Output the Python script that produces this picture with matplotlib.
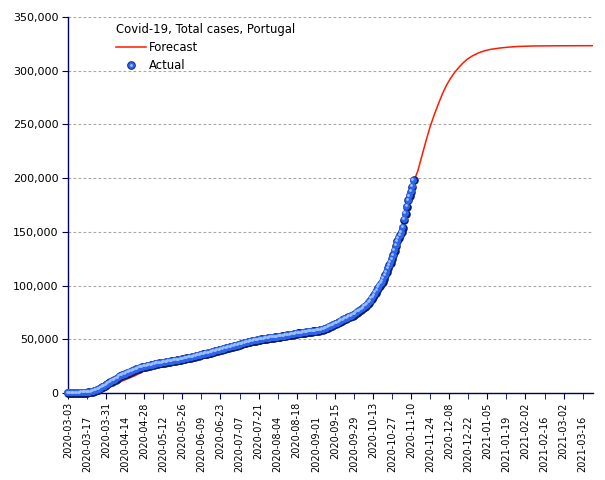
import matplotlib
matplotlib.use('Agg')
from matplotlib import pyplot as plt
from matplotlib import transforms
from matplotlib.legend_handler import HandlerTuple
from matplotlib.lines import Line2D
import matplotlib.ticker as mticker
import numpy as np
import pandas as pd

# daily confirmed cases, Portugal, 2020-03-03 .. 2020-11-12
actual_start = '2020-03-03'
actual_cases = [
    4, 6, 9, 13, 21, 30, 39, 41, 59, 78, 112, 169, 245, 331, 448, 642, 785, 1020, 1280, 1600,
    2060, 2362, 2995, 3544, 4268, 5170, 5962, 6408, 7443,
    8251, 9034, 9886, 10524, 11278, 11730, 12442, 13141, 13956, 15472, 15987, 16585, 16934, 17448,
    18091, 18841, 19022, 19685, 20206, 20863, 21379, 21982, 22353, 22797, 23392, 23864, 24027,
    24322, 24505, 25045,
    25351, 25524, 25702, 25987, 26182, 26715, 27268, 27406, 27581, 27679, 27913, 28132, 28319,
    28583, 28810, 29036, 29209, 29432, 29660, 29912, 30200, 30471, 30623, 30788, 31007, 31292,
    31596, 31946, 32203, 32500, 32700,
    32895, 33261, 33592, 33969, 34351, 34693, 34885, 35306, 35600, 35910, 36180, 36463, 36690,
    37036, 37336, 37672, 38089, 38464, 38841, 39133, 39392, 39737, 40104, 40415, 40866, 41189,
    41646, 41912, 42141, 42454,
    42782, 43156, 43569, 43897, 44129, 44416, 44859, 45277, 45679, 46221, 46512, 46818, 47051,
    47426, 47765, 48077, 48390, 48636, 48771, 48898, 49379, 49692, 49955, 50164, 50299, 50410,
    50613, 50868, 51072, 51310, 51463,
    51569, 51681, 51848, 52061, 52351, 52537, 52668, 52825, 52945, 53223, 53548, 53783, 53981,
    54234, 54448, 54701, 54992, 55211, 55452, 55597, 55720, 55912, 56007, 56274, 56673, 56812,
    56958, 57074, 57178, 57306, 57448,
    57531, 57883, 58012, 58243, 58633, 59051, 59457, 59943, 60258, 60895, 61541, 62126, 62813,
    63310, 63983, 64596, 65021, 65626, 66396, 67176, 68025, 68577, 69200, 69663, 70465, 71156,
    71475, 72055, 72939, 73604,
    74717, 75542, 76396, 77284, 78247, 79151, 80312, 81256, 82534, 83928, 85574, 87913, 89121,
    91193, 93294, 95902, 98055, 99911, 101860, 103736, 106271, 109541, 112440, 116109, 118686,
    121133, 124432, 128392, 132616, 137272, 141279,
    144341, 146847, 149443, 154016, 161350, 166900, 173540, 179324, 183420, 187237, 192172, 198011,
]

forecast_dates = [
    '2020-03-03', '2020-03-10', '2020-03-17', '2020-03-24', '2020-03-31', '2020-04-07',
    '2020-04-14', '2020-04-21', '2020-04-28', '2020-05-05', '2020-05-12', '2020-05-26',
    '2020-06-09', '2020-06-23', '2020-07-07', '2020-07-21', '2020-08-04', '2020-08-18',
    '2020-09-01', '2020-09-15', '2020-09-29', '2020-10-06', '2020-10-13', '2020-10-20',
    '2020-10-27', '2020-11-03', '2020-11-08', '2020-11-12', '2020-11-15', '2020-11-18',
    '2020-11-21', '2020-11-24', '2020-11-27', '2020-11-30', '2020-12-03', '2020-12-06',
    '2020-12-09', '2020-12-12', '2020-12-15', '2020-12-18', '2020-12-21', '2020-12-25',
    '2020-12-29', '2021-01-02', '2021-01-07', '2021-01-14', '2021-01-21', '2021-01-28',
    '2021-02-07', '2021-02-26', '2021-03-23',
]
forecast_cases = [
    0, 50, 400, 2000, 5500, 8800,
    12300, 16000, 20500, 25500, 27800, 31000,
    35400, 39800, 44600, 49300, 52000, 54700,
    57800, 64000, 73000, 79200, 89200, 103700,
    124400, 149400, 179300, 197000, 207000, 221000,
    235000, 248000, 259000, 269000, 278500, 286500,
    293000, 298500, 303000, 307000, 310500, 313800,
    316300, 318200, 319800, 321100, 322000, 322600,
    323000, 323200, 323300,
]

tick_start = '2020-03-03'
tick_end = '2021-03-16'

NAVY = '#00005e'


def main():
    fig = plt.figure(figsize=(6.05, 4.80), dpi=100)
    ax = fig.add_axes([68 / 605, 1 - 393 / 480, 525 / 605, 376 / 480])

    t0 = pd.Timestamp(actual_start)
    act_x = np.arange(len(actual_cases))
    fc_x = np.array([(pd.Timestamp(d) - t0).days for d in forecast_dates])

    ax.plot(fc_x, forecast_cases, color='#ff1a00', lw=1.1, zorder=3)

    # sphere-like markers: dark base, blue body, light highlight
    ax.plot(act_x, actual_cases, 'o', ms=6.2, mfc='#0a1c6e', mew=0, zorder=4, clip_on=False)
    body_tr = transforms.offset_copy(ax.transData, fig=fig, x=-0.4, y=0.4, units='points')
    ax.plot(act_x, actual_cases, 'o', ms=5.0, mfc='#2d64ea', mew=0, zorder=5,
            transform=body_tr, clip_on=False)
    hi_tr = transforms.offset_copy(ax.transData, fig=fig, x=-1.0, y=1.0, units='points')
    ax.plot(act_x, actual_cases, 'o', ms=2.0, mfc='#9cc0ff', mew=0, zorder=6,
            transform=hi_tr, clip_on=False)

    ax.set_xlim(0, 385.6)
    ax.set_ylim(0, 350000)

    # labels alternate between two rows: even ones on major ticks, odd ones on minor ticks
    ticks = pd.date_range(tick_start, tick_end, freq='14D')
    pos = [(d - t0).days for d in ticks]
    labels = [d.strftime('%Y-%m-%d') for d in ticks]
    ax.set_xticks(pos[0::2])
    ax.set_xticklabels(labels[0::2], rotation=90, fontsize=7)
    ax.set_xticks(pos[1::2], minor=True)
    ax.set_xticklabels(labels[1::2], minor=True, rotation=90, fontsize=7)
    ax.tick_params(axis='x', which='major', length=4, color=NAVY, pad=2.6)
    ax.tick_params(axis='x', which='minor', length=4, color=NAVY, pad=12.2)

    ax.set_yticks(np.arange(0, 350001, 50000))
    ax.yaxis.set_major_formatter(mticker.StrMethodFormatter('{x:,.0f}'))
    ax.tick_params(axis='y', labelsize=8, length=4, color=NAVY, pad=3)

    ax.grid(axis='y', color='#a8a8a8', lw=0.8, linestyle=(0, (2.5, 2)))
    ax.set_axisbelow(True)
    for side in ['top', 'right']:
        ax.spines[side].set_visible(False)
    for side in ['left', 'bottom']:
        ax.spines[side].set_color(NAVY)
        ax.spines[side].set_linewidth(1.0)

    fc_handle = Line2D([], [], color='#ff1a00', lw=1.1)
    act_handle = (Line2D([], [], ls='', marker='o', ms=6.2, mfc='#0a1c6e', mew=0),
                  Line2D([], [], ls='', marker='o', ms=5.0, mfc='#2d64ea', mew=0),
                  Line2D([], [], ls='', marker='o', ms=2.0, mfc='#9cc0ff', mew=0))
    ax.legend([fc_handle, act_handle], ['Forecast', 'Actual'],
              title='Covid-19, Total cases, Portugal', title_fontsize=8.4,
              fontsize=8.4, frameon=False, loc='upper left',
              bbox_to_anchor=(0.0914, 0.985), borderpad=0, borderaxespad=0,
              handlelength=2.6, handletextpad=0.25, labelspacing=0.45,
              alignment='left',
              handler_map={tuple: HandlerTuple(ndivide=1, pad=0)})

    fig.savefig('out.png', dpi=100)


if __name__ == "__main__":
    main()
